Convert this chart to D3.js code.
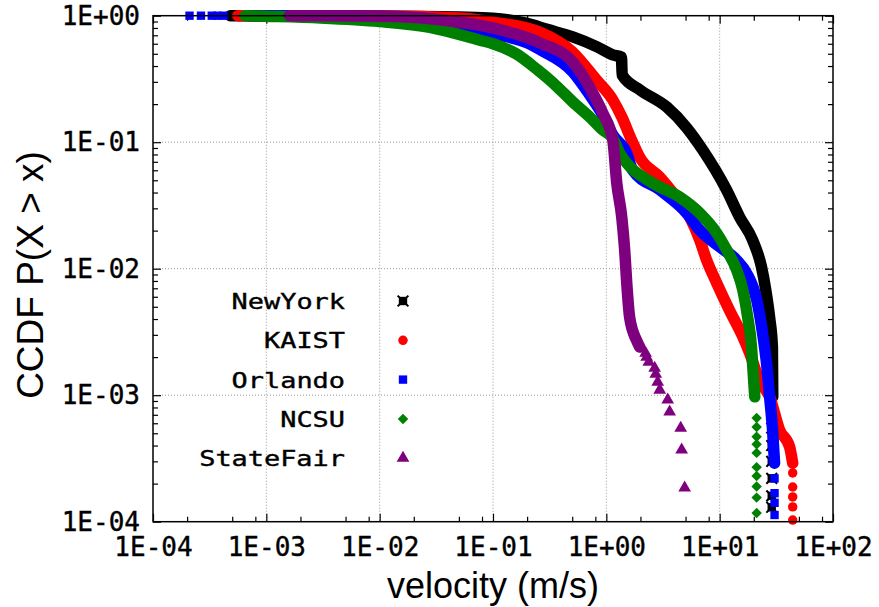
<!DOCTYPE html>
<html>
<head>
<meta charset="utf-8">
<script src="https://cdn.jsdelivr.net/npm/d3@7"></script>
<style>
  body { margin: 0; background: #fff; }
  svg { display: block; }
  .tick text { font-family: "DejaVu Sans Mono", monospace; font-size: 26px; fill: #000; stroke: #000; stroke-width: 0.4; }
  .grid line { stroke: #999; stroke-width: 1; stroke-dasharray: 1,2; }
</style>
</head>
<body>
<div id="chart"></div>
<script>
/* CCDF of walking velocity, log-log, five traces */

var seriesNames = ["NewYork", "KAIST", "Orlando", "NCSU", "StateFair"];
var seriesColors = ["#000000", "#ff0000", "#0000ff", "#008000", "#7f007f"];
var seriesSymbols = ["cross", "circle", "square", "diamond", "triangle"];

var xTickValues = [1e-4, 1e-3, 1e-2, 1e-1, 1, 10, 100];
var xTickLabels = ["1E-04", "1E-03", "1E-02", "1E-01", "1E+00", "1E+01", "1E+02"];
var yTickValues = [1e-4, 1e-3, 1e-2, 1e-1, 1];
var yTickLabels = ["1E-04", "1E-03", "1E-02", "1E-01", "1E+00"];

// [velocity, P(X > x)] along the dense part of each trace
var newYorkLine = [[4.8e-4, 1], [0.01, 0.995], [0.05, 0.975], [0.1, 0.955], [0.2, 0.87], [0.3, 0.78],
  [0.506, 0.68], [0.82, 0.57], [1.14, 0.49], [1.36, 0.47], [1.38, 0.34], [1.97, 0.26], [3.41, 0.19],
  [5.12, 0.13], [7.08, 0.087], [11.5, 0.042], [15.0, 0.0256], [19.5, 0.0169], [23.4, 0.0103],
  [25.5, 0.0068], [27.6, 0.0041], [29.2, 0.0024], [29.4, 0.00097]];
var kaistLine = [[5.6e-4, 1], [0.01, 0.995], [0.05, 0.96], [0.1, 0.89], [0.26, 0.74], [0.5, 0.52],
  [0.82, 0.31], [1.14, 0.216], [1.37, 0.158], [1.67, 0.104], [1.97, 0.076], [2.96, 0.053],
  [3.85, 0.040], [5.45, 0.0256], [6.67, 0.0169], [7.67, 0.0117], [9.42, 0.0077], [12.2, 0.0047],
  [16.0, 0.0029], [18.4, 0.00215], [22.5, 0.0013], [27.6, 0.00097], [33.8, 0.00053],
  [41.4, 0.00039], [44.1, 0.00029]];
var orlandoLine = [[7.2e-4, 1], [0.01, 0.985], [0.034, 0.9], [0.1, 0.72], [0.21, 0.6], [0.26, 0.54],
  [0.506, 0.36], [0.715, 0.236], [0.93, 0.164], [1.14, 0.114], [1.51, 0.082], [1.71, 0.060],
  [2.96, 0.042], [5.12, 0.0275], [6.67, 0.0202], [10, 0.0149], [14.1, 0.0117], [17.3, 0.0092],
  [21.2, 0.0057], [23.9, 0.0031], [25.9, 0.0018], [27.6, 0.00097], [29.3, 0.00053], [30.5, 0.00029]];
var ncsuLine = [[6.5e-4, 1], [1e-3, 0.99], [3e-3, 0.96], [0.01, 0.90], [0.0277, 0.81], [0.0766, 0.64],
  [0.1, 0.60], [0.16, 0.50], [0.25, 0.37], [0.36, 0.28], [0.506, 0.208], [0.715, 0.158], [0.93, 0.125],
  [1.14, 0.108], [1.31, 0.082], [1.51, 0.0685], [2.56, 0.0475], [4.44, 0.0368], [6.67, 0.0275],
  [9.42, 0.0191], [11.5, 0.0141], [14.1, 0.0098], [16.0, 0.0068], [17.7, 0.0041], [19.1, 0.0024],
  [19.5, 0.0018], [20.4, 0.00097]];
var stateFairLine = [[1.6e-3, 1], [0.01, 0.99], [0.034, 0.93], [0.1, 0.80], [0.259, 0.61],
  [0.506, 0.43], [0.715, 0.27], [0.93, 0.17], [1.14, 0.104], [1.236, 0.0475], [1.368, 0.0256],
  [1.452, 0.014], [1.514, 0.0077], [1.607, 0.0041], [1.853, 0.0027], [1.972, 0.0024]];

// single markers that stand apart from the dense part
var newYorkPoints = [[28.8, 7e-4], [28.8, 5.5e-4], [28.8, 4e-4], [28.8, 3e-4], [28.8, 2.2e-4],
  [28.8, 1.6e-4], [28.8, 1.3e-4]];
var kaistPoints = [[44.1, 2.43e-4], [44.1, 1.88e-4], [44.1, 1.57e-4], [44.1, 1.31e-4], [44.1, 1.03e-4]];
var orlandoPoints = [[2.1e-4, 1], [2.65e-4, 1], [3.3e-4, 1], [3.7e-4, 1], [4.2e-4, 1],
  [30.5, 2.2e-4], [30.5, 1.68e-4], [30.5, 1.41e-4], [30.5, 1.13e-4]];
var ncsuPoints = [[21.2, 6.6e-4], [21.2, 5.6e-4], [21.2, 4.7e-4], [21.2, 4.1e-4], [21.2, 3.5e-4],
  [21.2, 2.7e-4], [21.2, 2.3e-4], [21.2, 1.9e-4], [21.2, 1.55e-4], [21.2, 1.17e-4]];
var stateFairPoints = [[2.22, 0.00215], [2.27, 0.0020], [2.37, 0.00183], [2.67, 0.00164],
  [2.73, 0.00147], [2.84, 0.00127], [2.96, 0.0011], [3.48, 0.00092], [3.62, 0.00074],
  [4.53, 0.00055], [4.62, 0.00037], [4.91, 0.000185]];

var lines = [newYorkLine, kaistLine, orlandoLine, ncsuLine, stateFairLine];
var points = [newYorkPoints, kaistPoints, orlandoPoints, ncsuPoints, stateFairPoints];

var width = 879, height = 607;
var margin = {top: 15.7, right: 46, bottom: 85.3, left: 153};
var plotW = width - margin.left - margin.right;
var plotH = height - margin.top - margin.bottom;

var svg = d3.select('#chart').append('svg')
    .attr('width', width)
    .attr('height', height);

var x = d3.scaleLog().domain([1e-4, 1e2]).range([0, plotW]);
var y = d3.scaleLog().domain([1e-4, 1]).range([plotH, 0]);

var g = svg.append('g')
    .attr('transform', 'translate(' + margin.left + ',' + margin.top + ')');

/* grid */
var grid = g.append('g').attr('class', 'grid');
grid.selectAll('.gx').data(xTickValues.slice(1, -1)).enter().append('line')
    .attr('x1', d => x(d)).attr('x2', d => x(d))
    .attr('y1', 0).attr('y2', plotH);
grid.selectAll('.gy').data(yTickValues.slice(1, -1)).enter().append('line')
    .attr('x1', 0).attr('x2', plotW)
    .attr('y1', d => y(d)).attr('y2', d => y(d));

/* minor tick positions */
var xMinor = [];
xTickValues.slice(0, -1).forEach(function(v) { [2, 5, 8].forEach(k => xMinor.push(v * k)); });
var yMinor = [];
yTickValues.slice(0, -1).forEach(function(v) { d3.range(2, 10).forEach(k => yMinor.push(v * k)); });

function fmtX(d) { return xTickLabels[xTickValues.indexOf(d)]; }
function fmtY(d) { return yTickLabels[yTickValues.indexOf(d)]; }

// major axes with labels
g.append('g').attr('class', 'axis')
    .attr('transform', 'translate(0,' + plotH + ')')
    .call(d3.axisBottom(x).tickValues(xTickValues).tickFormat(fmtX).tickSize(-8).tickPadding(16));
g.append('g').attr('class', 'axis')
    .call(d3.axisLeft(y).tickValues(yTickValues).tickFormat(fmtY).tickSize(-8).tickPadding(13));
g.append('g').attr('class', 'axis')
    .call(d3.axisTop(x).tickValues(xTickValues).tickFormat('').tickSize(-8));
g.append('g').attr('class', 'axis')
    .attr('transform', 'translate(' + plotW + ',0)')
    .call(d3.axisRight(y).tickValues(yTickValues).tickFormat('').tickSize(-8));

// minor ticks
g.append('g').attr('class', 'axis')
    .attr('transform', 'translate(0,' + plotH + ')')
    .call(d3.axisBottom(x).tickValues(xMinor).tickFormat('').tickSize(-5));
g.append('g').attr('class', 'axis')
    .call(d3.axisTop(x).tickValues(xMinor).tickFormat('').tickSize(-5));
g.append('g').attr('class', 'axis')
    .call(d3.axisLeft(y).tickValues(yMinor).tickFormat('').tickSize(-5));
g.append('g').attr('class', 'axis')
    .attr('transform', 'translate(' + plotW + ',0)')
    .call(d3.axisRight(y).tickValues(yMinor).tickFormat('').tickSize(-5));

g.selectAll('.axis .domain').remove();
g.selectAll('.axis line').attr('stroke', '#000').attr('stroke-width', 1.2);

/* symbols */
var symbolType = {
    circle: d3.symbolCircle, square: d3.symbolSquare, diamond: d3.symbolDiamond2,
    triangle: d3.symbolTriangle, cross: d3.symbolSquare
};
function drawSymbol(sel, kind, color, size) {
    sel.append('path')
        .attr('d', d3.symbol().type(symbolType[kind]).size(size))
        .attr('fill', color);
    if (kind === 'cross') {
        sel.append('path')
            .attr('d', d3.symbol().type(d3.symbolTimes).size(size * 1.1))
            .attr('stroke', color).attr('stroke-width', 2).attr('fill', 'none');
    }
}

/* traces */
var line = d3.line()
    .curve(d3.curveMonotoneX)
    .x(function(d) { return x(d[0]); })
    .y(function(d) { return y(d[1]); });

seriesNames.forEach(function(name, i) {
    g.append('path')
        .datum(lines[i])
        .attr('class', 'line')
        .attr('fill', 'none')
        .attr('stroke', seriesColors[i])
        .attr('stroke-width', 11.5)
        .attr('stroke-linejoin', 'round')
        .attr('stroke-linecap', 'round')
        .attr('d', line);

    g.selectAll('.pt' + i).data(points[i]).enter().append('g')
        .attr('transform', d => 'translate(' + x(d[0]) + ',' + y(d[1]) + ')')
        .each(function() { drawSymbol(d3.select(this), seriesSymbols[i], seriesColors[i], 70); });
});

/* frame */
g.append('rect')
    .attr('width', plotW).attr('height', plotH)
    .attr('fill', 'none').attr('stroke', '#000').attr('stroke-width', 1.5);

/* legend */
var legend = svg.append('g');
seriesNames.forEach(function(name, i) {
    var ly = 301 + i * 39.3;
    legend.append('text')
        .attr('x', 345).attr('y', ly + 8)
        .attr('text-anchor', 'end')
        .attr('textLength', name.length * 16.2)
        .attr('lengthAdjust', 'spacingAndGlyphs')
        .style('font-family', '"DejaVu Sans Mono", monospace')
        .style('font-size', '22px')
        .style('stroke', '#000').style('stroke-width', 0.4)
        .text(name);
    var s = legend.append('g').attr('transform', 'translate(403,' + ly + ')');
    drawSymbol(s, seriesSymbols[i], seriesColors[i], 70);
});

/* axis titles */
svg.append('text')
    .attr('x', 493).attr('y', 598)
    .attr('text-anchor', 'middle')
    .style('font-family', '"Liberation Sans", Arial, sans-serif')
    .style('font-size', '36px')
    .text('velocity (m/s)');

svg.append('text')
    .attr('transform', 'translate(43,275) rotate(-90)')
    .attr('text-anchor', 'middle')
    .style('font-family', '"Liberation Sans", Arial, sans-serif')
    .style('font-size', '37px')
    .text('CCDF P(X > x)');
</script>
</body>
</html>
